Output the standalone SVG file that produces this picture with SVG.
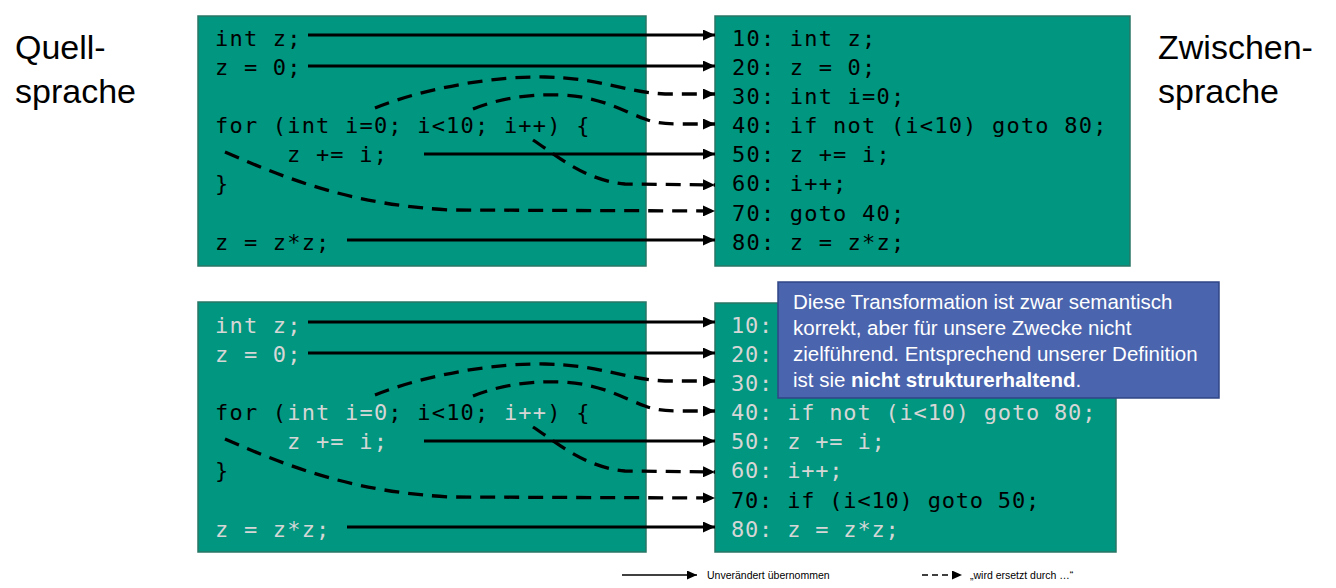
<svg xmlns="http://www.w3.org/2000/svg" width="1336" height="588" viewBox="0 0 1336 588">
<style>
.box{fill:#00967F;stroke:#2a7566;stroke-width:1.5}
.code{font-family:"DejaVu Sans Mono","Liberation Mono",monospace;font-size:22px;letter-spacing:1.2px;fill:#000}
.lt{fill:#d6d6d6}
.bk{fill:#000}
.side{font-family:"Liberation Sans",Arial,sans-serif;font-size:34px;fill:#000}
.solid{fill:none;stroke:#000;stroke-width:3}
.dash{fill:none;stroke:#000;stroke-width:3.3;stroke-dasharray:15 9}
.note{font-family:"Liberation Sans",Arial,sans-serif;font-size:20.5px;fill:#fff}
.leg{font-family:"Liberation Sans",Arial,sans-serif;font-size:10.5px;fill:#000}
</style>
<defs>
<marker id="ah" markerUnits="userSpaceOnUse" markerWidth="13" markerHeight="11" refX="12" refY="5.5" orient="auto">
<path d="M0,0 L12,5.5 L0,11 Z" fill="#000"/>
</marker>
<marker id="ahs" markerUnits="userSpaceOnUse" markerWidth="11" markerHeight="9" refX="10" refY="4.5" orient="auto">
<path d="M0,0 L10,4.5 L0,9 Z" fill="#000"/>
</marker>
</defs>
<rect width="1336" height="588" fill="#fff"/>

<g id="label-quell">
<text class="side" x="15" y="59">Quell-</text>
<text class="side" x="15" y="103">sprache</text>
</g>
<g id="label-zwischen">
<text class="side" x="1158" y="59">Zwischen-</text>
<text class="side" x="1158" y="103">sprache</text>
</g>

<g id="src-top">
<rect class="box" x="198" y="16" width="448" height="250"/>
<text class="code" x="215" y="46">int z;</text>
<text class="code" x="215" y="75">z = 0;</text>
<text class="code" x="215" y="133">for (int i=0; i&lt;10; i++) {</text>
<text class="code" x="287" y="162">z += i;</text>
<text class="code" x="215" y="191">}</text>
<text class="code" x="215" y="250">z = z*z;</text>
</g>

<g id="ir-top">
<rect class="box" x="715" y="16" width="415" height="250"/>
<text class="code" x="732" y="46">10: int z;</text>
<text class="code" x="732" y="75">20: z = 0;</text>
<text class="code" x="732" y="104">30: int i=0;</text>
<text class="code" x="732" y="133">40: if not (i&lt;10) goto 80;</text>
<text class="code" x="732" y="162">50: z += i;</text>
<text class="code" x="732" y="191">60: i++;</text>
<text class="code" x="732" y="221">70: goto 40;</text>
<text class="code" x="732" y="250">80: z = z*z;</text>
</g>

<g id="src-bottom">
<rect class="box" x="198" y="302" width="448" height="250"/>
<text class="code lt" x="215" y="333">int z;</text>
<text class="code lt" x="215" y="362">z = 0;</text>
<text class="code" x="215" y="420"><tspan class="bk">for (</tspan><tspan class="lt">int i=0</tspan><tspan class="bk">; i&lt;10; </tspan><tspan class="lt">i++</tspan><tspan class="bk">) {</tspan></text>
<text class="code lt" x="287" y="449">z += i;</text>
<text class="code" x="215" y="478">}</text>
<text class="code lt" x="215" y="537">z = z*z;</text>
</g>

<g id="ir-bottom">
<rect class="box" x="715" y="303" width="401" height="249"/>
<text class="code lt" x="731" y="333" style="letter-spacing:0.8px">10:</text>
<text class="code lt" x="731" y="362" style="letter-spacing:0.8px">20:</text>
<text class="code lt" x="731" y="391" style="letter-spacing:0.8px">30:</text>
<text class="code lt" x="731" y="420" style="letter-spacing:0.8px">40: if not (i&lt;10) goto 80;</text>
<text class="code lt" x="731" y="449" style="letter-spacing:0.8px">50: z += i;</text>
<text class="code lt" x="731" y="478" style="letter-spacing:0.8px">60: i++;</text>
<text class="code" x="731" y="508" style="letter-spacing:0.8px">70: if (i&lt;10) goto 50;</text>
<text class="code lt" x="731" y="537" style="letter-spacing:0.8px">80: z = z*z;</text>
</g>

<g id="connectors">
<g id="conn-top">
<path class="solid" d="M308,35 L715,35" marker-end="url(#ah)"/>
<path class="solid" d="M308,66 L715,66" marker-end="url(#ah)"/>
<path class="solid" d="M424,154 L715,154" marker-end="url(#ah)"/>
<path class="solid" d="M347,240 L715,240" marker-end="url(#ah)"/>
<path class="dash" d="M375,108 C430,86 500,76 545,77 C600,78 625,92 665,94 L715,94" marker-end="url(#ah)"/>
<path class="dash" d="M473,109 C500,98 530,94 560,95 C600,96 625,112 645,119 C655,123 665,124 680,124 L715,124" marker-end="url(#ah)"/>
<path class="dash" d="M533,140 C560,158 585,180 625,184 L715,185" marker-end="url(#ah)"/>
<path class="dash" d="M225,152 C300,185 360,205 450,210 L715,211" marker-end="url(#ah)"/>
</g>
<g id="conn-bottom" transform="translate(0,287)">
<path class="solid" d="M308,35 L715,35" marker-end="url(#ah)"/>
<path class="solid" d="M308,66 L715,66" marker-end="url(#ah)"/>
<path class="solid" d="M424,154 L715,154" marker-end="url(#ah)"/>
<path class="solid" d="M347,240 L715,240" marker-end="url(#ah)"/>
<path class="dash" d="M375,108 C430,86 500,76 545,77 C600,78 625,92 665,94 L715,94" marker-end="url(#ah)"/>
<path class="dash" d="M473,109 C500,98 530,94 560,95 C600,96 625,112 645,119 C655,123 665,124 680,124 L715,124" marker-end="url(#ah)"/>
<path class="dash" d="M533,140 C560,158 585,180 625,184 L715,185" marker-end="url(#ah)"/>
<path class="dash" d="M225,152 C300,185 360,205 450,210 L715,211" marker-end="url(#ah)"/>
</g>
</g>

<g id="callout">
<rect x="778" y="282" width="441" height="116" fill="#4a64ad" stroke="#2f4686" stroke-width="1.5"/>
<text class="note" x="793" y="309">Diese Transformation ist zwar semantisch</text>
<text class="note" x="793" y="335">korrekt, aber für unsere Zwecke nicht</text>
<text class="note" x="793" y="361">zielführend. Entsprechend unserer Definition</text>
<text class="note" x="793" y="387">ist sie <tspan font-weight="bold">nicht strukturerhaltend</tspan>.</text>
</g>

<g id="legend">
<path d="M622,575 L697,575" fill="none" stroke="#000" stroke-width="1.5" marker-end="url(#ahs)"/>
<text class="leg" x="707" y="579">Unverändert übernommen</text>
<path d="M922,575 L962,575" fill="none" stroke="#000" stroke-width="1.5" stroke-dasharray="6 4" marker-end="url(#ahs)"/>
<text class="leg" x="970" y="579">„wird ersetzt durch …“</text>
</g>
</svg>
